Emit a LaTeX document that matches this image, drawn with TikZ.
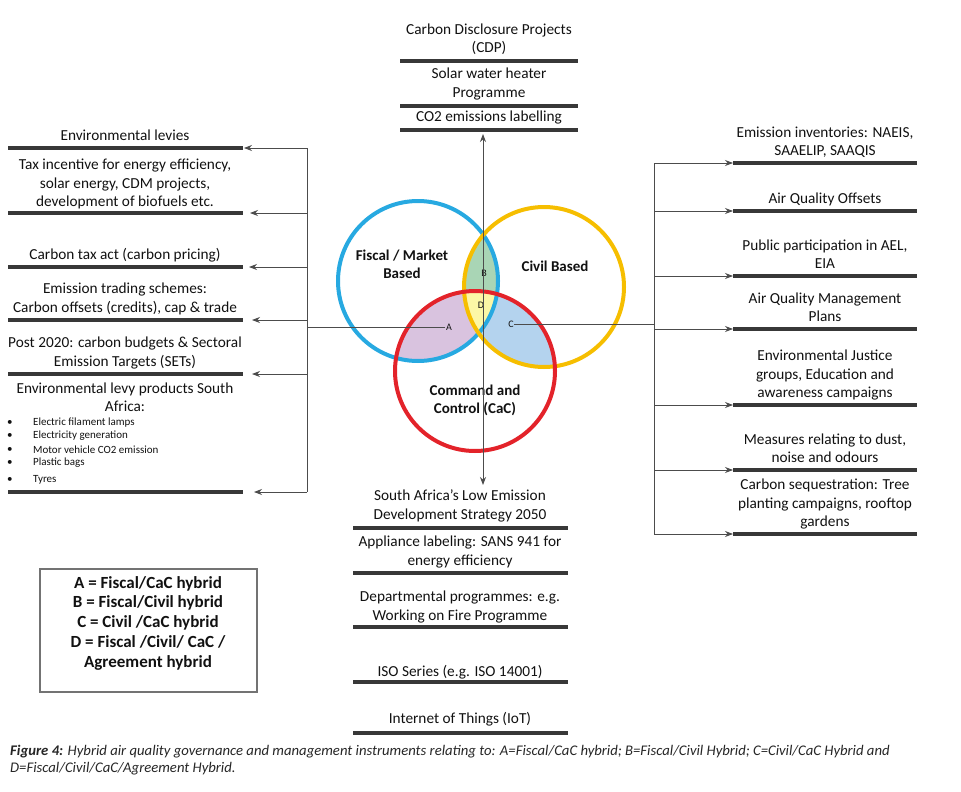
\documentclass[tikz,border=0pt]{standalone}
\usepackage{fontspec}
\setmainfont{Carlito}
\usetikzlibrary{arrows.meta}
\definecolor{cblue}{HTML}{27A9E1}
\definecolor{cyellow}{HTML}{F6BE00}
\definecolor{cred}{HTML}{E3232A}
\definecolor{fpurple}{HTML}{D9C3DF}
\definecolor{fgreen}{HTML}{A9D5B5}
\definecolor{fyellow}{HTML}{FCF7A6}
\definecolor{flblue}{HTML}{B4D3EE}
\definecolor{ink}{HTML}{111111}
\begin{document}
\begin{tikzpicture}[x=1pt,y=-1pt,
  txt/.style={align=center,inner sep=0pt,font=\fontsize{15.3}{18.3}\selectfont,text=ink},
  small/.style={anchor=west,inner sep=0pt,font=\fontsize{11}{12}\selectfont,text=ink},
  venn/.style={align=center,inner sep=0pt,font=\bfseries\fontsize{15}{18}\selectfont,text=ink},
  letter/.style={inner sep=0.5pt,font=\fontsize{10}{11}\selectfont,text=ink},
  bar/.style={line width=3.5pt,draw=black!78},
  wire/.style={draw=black!70,line width=0.8pt},
  conn/.style={wire,-{Stealth[length=8pt,width=6pt]}},
  ring/.style={line width=4pt}]
\useasboundingbox (0,0) rectangle (961,792);

% ---------- Venn fills ----------
\begin{scope}\clip (418,281) circle[radius=80pt]; \fill[fpurple] (475,371) circle[radius=80pt];\end{scope}
\begin{scope}\clip (544,287) circle[radius=80pt]; \fill[flblue] (475,371) circle[radius=80pt];\end{scope}
\begin{scope}\clip (418,281) circle[radius=80pt]; \fill[fgreen] (544,287) circle[radius=80pt];\end{scope}
\begin{scope}\clip (418,281) circle[radius=80pt]; \clip (544,287) circle[radius=80pt]; \fill[fyellow] (475,371) circle[radius=80pt];\end{scope}
% ---------- Venn rings ----------
\draw[ring,cblue] (418,281) circle[radius=80pt];
\draw[ring,cyellow] (544,287) circle[radius=80pt];
\draw[ring,cred] (475,371) circle[radius=80pt];

% ---------- Venn labels ----------
\node[venn] (fiscal) at (402,264) {Fiscal / Market\\Based};
\node[venn] (civil) at (555,266) {Civil Based};
\node[venn] (cac) at (475,400) {Command and\\Control (CaC)};
\node[letter] (A) at (449,327) {A};
\node[letter] (B) at (484,273) {B};
\node[letter] (C) at (511,324) {C};
\node[letter] (D) at (481,305) {D};

% ---------- top stack ----------
\node[txt] (cdp) at (489,39) {Carbon Disclosure Projects\\(CDP)};
\node[txt] (solar) at (489,84) {Solar water heater\\Programme};
\node[txt] (co2) at (489,118) {CO2 emissions labelling};
\draw[bar] (400,61) -- (578,61);
\draw[bar] (400,106) -- (578,106);
\draw[bar] (400,130) -- (578,130);

% ---------- bottom stack ----------
\node[txt] (leds) at (460,506) {South Africa’s Low Emission\\Development Strategy 2050};
\node[txt] (appl) at (460,552) {Appliance labeling: SANS 941 for\\energy efficiency};
\node[txt] (dept) at (460,607) {Departmental programmes: e.g.\\Working on Fire Programme};
\node[txt] (iso) at (460,672) {ISO Series (e.g. ISO 14001)};
\node[txt] (iot) at (460,719) {Internet of Things (IoT)};
\draw[bar] (353,528) -- (568,528);
\draw[bar] (353,573) -- (568,573);
\draw[bar] (353,627) -- (568,627);
\draw[bar] (353,682) -- (568,682);
\draw[bar] (353,733) -- (568,733);

% ---------- central axis ----------
\coordinate (Dc) at (483,330);
\coordinate (topTip) at (483,134);
\coordinate (botTip) at (483,485);
\draw[conn] (Dc) -- (topTip);
\draw[conn] (Dc) -- (botTip);

% ---------- left column ----------
\node[txt] (envlev) at (125,135) {Environmental levies};
\node[txt] (tax) at (125,184) {Tax incentive for energy efficiency,\\solar energy, CDM projects,\\development of biofuels etc.};
\node[txt] (ctax) at (125,255) {Carbon tax act (carbon pricing)};
\node[txt] (ets) at (125,299) {Emission trading schemes:\\Carbon offsets (credits), cap \& trade};
\node[txt] (post) at (125,353) {Post 2020: carbon budgets \& Sectoral\\Emission Targets (SETs)};
\node[txt] (levprod) at (125,397) {Environmental levy products South\\Africa:};
\foreach \yy/\tt [count=\i] in {423/Electric filament lamps,436/Electricity generation,450/Motor vehicle CO2 emission,463/Plastic bags,480/Tyres}{
  \node[small] (it\i) at (33,\yy) {\tt};
  \node[small] (bu\i) at (7,\yy) {•};
}
\foreach \yy in {148,213,267,320,374,492}{\draw[bar] (8,\yy) -- (243,\yy);}
\coordinate (lbTop) at (307,148);
\coordinate (lbBot) at (307,492);
\draw[wire] (lbTop) -- (lbBot);
\foreach \yy/\tip [count=\i] in {148/244,213/250,267/249,320/252,374/252,492/254}{
  \coordinate (lbus\i) at (307,\yy);
  \coordinate (ltip\i) at (\tip,\yy);
  \draw[conn] (lbus\i) -- (ltip\i);
}
\coordinate (lbA) at (307,327);
\draw[wire] (A) -- (lbA);

% ---------- right column ----------
\node[txt] (naeis) at (825,142) {Emission inventories: NAEIS,\\SAAELIP, SAAQIS};
\node[txt] (aqo) at (825,199) {Air Quality Offsets};
\node[txt] (pub) at (825,254) {Public participation in AEL,\\EIA};
\node[txt] (aqmp) at (825,307) {Air Quality Management\\Plans};
\node[txt] (ej) at (825,375) {Environmental Justice\\groups, Education and\\awareness campaigns};
\node[txt] (dust) at (825,448) {Measures relating to dust,\\noise and odours};
\node[txt] (seq) at (825,504) {Carbon sequestration: Tree\\planting campaigns, rooftop\\gardens};
\coordinate (rbTop) at (654,163);
\coordinate (rbBot) at (654,534);
\draw[wire] (rbTop) -- (rbBot);
\foreach \yy [count=\i] in {163,211,276,329,405,470,534}{
  \draw[bar] (733,\yy) -- (917,\yy);
  \coordinate (rbus\i) at (654,\yy);
  \coordinate (rtip\i) at (733,\yy);
  \draw[conn] (rbus\i) -- (rtip\i);
}
\coordinate (rbC) at (654,324);
\draw[wire] (C) -- (rbC);

% ---------- legend ----------
\draw[draw=black!55,line width=1.3pt] (40,569) rectangle (257,692);
\node[align=center,inner sep=0pt,font=\bfseries\fontsize{17}{19.75}\selectfont,text=ink] (legend) at (148,623)
  {A = Fiscal/CaC hybrid\\B = Fiscal/Civil hybrid\\C = Civil /CaC hybrid\\D = Fiscal /Civil/ CaC /\\Agreement hybrid};

% ---------- caption ----------
\node[anchor=north west,align=left,inner sep=0pt,font=\itshape\fontsize{14.7}{17}\selectfont,text=black!85] (caption) at (10,745)
  {\textbf{Figure 4:} Hybrid air quality governance and management instruments relating to: A=Fiscal/CaC hybrid; B=Fiscal/Civil Hybrid; C=Civil/CaC Hybrid and\\D=Fiscal/Civil/CaC/Agreement Hybrid.};
\end{tikzpicture}
\end{document}
